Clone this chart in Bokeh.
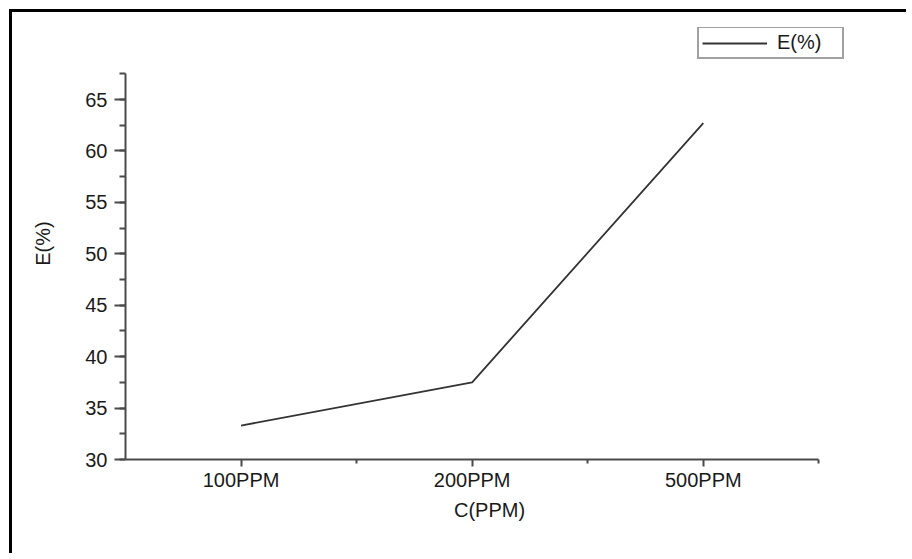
from bokeh.plotting import figure
from bokeh.models import Range1d, FixedTicker, SingleIntervalTicker, Legend, LegendItem
from bokeh.embed import file_html
from bokeh.resources import INLINE

categories = ["100PPM", "200PPM", "500PPM"]
efficiency = [33.3, 37.5, 62.7]
series_name = "E(%)"
x_title = "C(PPM)"
y_title = "E(%)"
y_axis_limits = (30, 67.5)

x_pos = [i + 1 for i in range(len(categories))]
x_axis_limits = (0.5, len(categories) + 0.5)

FONT = "Liberation Sans"

# frame extends above/right of the axes so the legend (outside the axes box) is not clipped
p = figure(width=897, height=544, output_backend="svg", toolbar_location=None,
           x_range=Range1d(x_axis_limits[0], x_axis_limits[1] + 0.15),
           y_range=Range1d(y_axis_limits[0], 72),
           min_border_left=113, min_border_right=56, min_border_top=15, min_border_bottom=97)
p.styles = {"margin-left": "9px", "margin-top": "9px",
            "border-top": "3px solid black", "border-left": "3px solid black"}
p.outline_line_color = None
p.xgrid.grid_line_color = None
p.ygrid.grid_line_color = None

r = p.line(x_pos, efficiency, line_color="#333333", line_width=1.8)

# x axis
p.xaxis.bounds = x_axis_limits
p.xaxis.ticker = FixedTicker(ticks=x_pos, minor_ticks=[v + 0.5 for v in x_pos])
p.xaxis.major_label_overrides = {v: c for v, c in zip(x_pos, categories)}
p.xaxis.axis_label = x_title
p.xaxis.major_tick_out = 7
p.xaxis.major_tick_in = 0
p.xaxis.minor_tick_out = 4
p.xaxis.minor_tick_in = 0
p.xaxis.major_label_standoff = 2
p.xaxis.axis_label_standoff = 5

# y axis
p.yaxis.bounds = y_axis_limits
p.yaxis.ticker = SingleIntervalTicker(interval=5, num_minor_ticks=2)
p.yaxis.axis_label = y_title
p.yaxis.major_tick_out = 11
p.yaxis.major_tick_in = 0
p.yaxis.minor_tick_out = 6
p.yaxis.minor_tick_in = 0
p.yaxis.major_label_standoff = 7
p.yaxis.axis_label_standoff = 28

for ax in (p.xaxis, p.yaxis):
    ax.axis_line_color = "#4a4a4a"
    ax.axis_line_width = 2
    ax.major_tick_line_color = "#4a4a4a"
    ax.major_tick_line_width = 2
    ax.minor_tick_line_color = "#4a4a4a"
    ax.minor_tick_line_width = 2
    ax.major_label_text_font = FONT
    ax.major_label_text_font_size = "20px"
    ax.major_label_text_color = "#1a1a1a"
    ax.axis_label_text_font = FONT
    ax.axis_label_text_font_size = "20px"
    ax.axis_label_text_font_style = "normal"
    ax.axis_label_text_color = "#1a1a1a"

legend = Legend(items=[LegendItem(label=series_name, renderers=[r])],
                location=(572, 400), orientation="vertical",
                border_line_color="#444444", border_line_width=2,
                background_fill_color="white", background_fill_alpha=1,
                label_text_font=FONT, label_text_font_size="20px", label_text_color="#1a1a1a",
                glyph_width=65, glyph_height=22, label_height=22, label_width=62,
                label_standoff=10, padding=3, margin=0, spacing=0)
p.add_layout(legend, "center")

open("out.html", "w").write(file_html(p, INLINE))
